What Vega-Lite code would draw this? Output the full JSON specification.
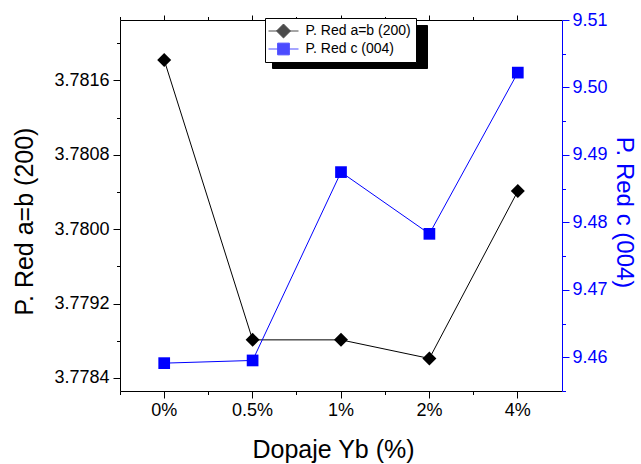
{
  "$schema": "https://vega.github.io/schema/vega-lite/v6.json",
  "width": 442,
  "height": 371,
  "autosize": "none",
  "padding": {"left": 120, "top": 20, "right": 79, "bottom": 73},
  "config": {
    "view": {"stroke": null},
    "font": "Liberation Sans",
    "axis": {"grid": false, "titleFontWeight": "normal", "labelFont": "Liberation Sans", "titleFont": "Liberation Sans", "domainWidth": 1, "tickWidth": 1},
    "legend": {"labelFont": "Liberation Sans"}
  },
  "data": {
    "values": [
      {"dop": "0%", "a": 3.78182, "c": 9.45913},
      {"dop": "0.5%", "a": 3.77881, "c": 9.45953},
      {"dop": "1%", "a": 3.77881, "c": 9.48745},
      {"dop": "2%", "a": 3.77861, "c": 9.4783},
      {"dop": "4%", "a": 3.78041, "c": 9.5022}
    ]
  },
  "layer": [
    {
      "layer": [
        {
          "mark": {"type": "line", "color": "black", "strokeWidth": 1},
          "encoding": {
            "x": {"field": "dop", "type": "ordinal", "sort": null, "bandPosition": 0.5,
              "scale": {"type": "band", "paddingInner": 0, "paddingOuter": 0},
              "axis": {"orient": "bottom", "title": "Dopaje Yb (%)", "labelAngle": 0, "bandPosition": 0.5, "tickSize": 7, "tickColor": "black", "domainColor": "black", "labelColor": "black", "titleColor": "black", "labelFontSize": 18, "titleFontSize": 25, "labelPadding": 3, "titlePadding": 18, "titleX": 213}},
            "y": {"field": "a", "type": "quantitative",
              "scale": {"domain": [3.77826, 3.78225], "zero": false, "nice": false},
              "axis": {"orient": "left", "title": "P. Red a=b (200)", "values": [3.7784, 3.7792, 3.78, 3.7808, 3.7816], "format": ".4f", "tickSize": 7, "tickColor": "black", "domainColor": "black", "labelColor": "black", "titleColor": "black", "labelFontSize": 18, "titleFontSize": 25, "labelPadding": 4, "titlePadding": 16, "titleY": 201}}
          }
        },
        {
          "mark": {"type": "point", "filled": true, "size": 196, "opacity": 1, "shape": "diamond", "color": "black"},
          "encoding": {
            "x": {"field": "dop", "type": "ordinal", "sort": null, "bandPosition": 0.5, "axis": null},
            "y": {"field": "a", "type": "quantitative", "axis": null}
          }
        },
        {
          "mark": {"type": "point", "opacity": 0},
          "encoding": {
            "x": {"field": "dop", "type": "ordinal", "sort": null, "bandPosition": 0.5,
              "axis": {"orient": "bottom", "title": null, "labels": false, "domain": false, "bandPosition": 0, "tickSize": 3.5, "tickColor": "black"}},
            "y": {"field": "a", "type": "quantitative",
              "axis": {"orient": "left", "title": null, "labels": false, "domain": false, "values": [3.7788, 3.7796, 3.7804, 3.7812, 3.782], "tickSize": 3.5, "tickColor": "black"}}
          }
        },
        {
          "mark": {"type": "point", "opacity": 0},
          "encoding": {
            "x": {"field": "dop", "type": "ordinal", "sort": null, "bandPosition": 0.5,
              "axis": {"orient": "top", "title": null, "labels": false, "domain": true, "domainColor": "black", "bandPosition": 0.5, "tickSize": 5, "tickColor": "black"}},
            "y": {"field": "a", "type": "quantitative", "axis": null}
          }
        },
        {
          "mark": {"type": "point", "opacity": 0},
          "encoding": {
            "x": {"field": "dop", "type": "ordinal", "sort": null, "bandPosition": 0.5,
              "axis": {"orient": "top", "title": null, "labels": false, "domain": false, "bandPosition": 0, "tickSize": 3.5, "tickColor": "black"}},
            "y": {"field": "a", "type": "quantitative", "axis": null}
          }
        },
        {
          "data": {"values": [{"s": "P. Red a=b (200)"}, {"s": "P. Red c (004)"}]},
          "transform": [{"filter": "false"}],
          "mark": {"type": "point", "filled": true, "strokeWidth": 1},
          "encoding": {
            "color": {"field": "s", "type": "nominal",
              "scale": {"domain": ["P. Red a=b (200)", "P. Red c (004)"], "range": ["black", "#0000ff"]},
              "legend": {"orient": "none", "legendX": 145, "legendY": -2, "title": null, "fillColor": "white", "strokeColor": "black", "padding": 5, "symbolSize": 225, "symbolOffset": 5.5, "labelOffset": 14, "labelFontSize": 14, "labelColor": "black", "rowPadding": 1, "zindex": 2, "symbolStrokeWidth": 1}},
            "shape": {"field": "s", "type": "nominal",
              "scale": {"domain": ["P. Red a=b (200)", "P. Red c (004)"], "range": ["M-2,0L2,0M0,-0.93L0.93,0L0,0.93L-0.93,0Z", "M-2,0L2,0M-0.78,-0.78L0.78,-0.78L0.78,0.78L-0.78,0.78Z"]}},
            "stroke": {"field": "s", "type": "nominal",
              "scale": {"domain": ["P. Red a=b (200)", "P. Red c (004)"], "range": ["black", "#0000ff"]}}
          }
        },
        {
          "data": {"values": [{"t": "s1"}, {"t": "s2"}]},
          "transform": [{"filter": "false"}],
          "mark": {"type": "point"},
          "encoding": {
            "size": {"field": "t", "type": "ordinal",
              "scale": {"domain": ["s1", "s2"], "range": [225, 225]},
              "legend": {"orient": "none", "legendX": 152, "legendY": 5, "title": null, "fillColor": "black", "strokeColor": "black", "padding": 5, "symbolOffset": 5.5, "labelOffset": 122, "labelFontSize": 14, "labelColor": "black", "rowPadding": 1, "zindex": 1, "symbolOpacity": 0,
                "labelExpr": "''"}}
          }
        }
      ],
      "resolve": {"axis": {"x": "independent", "y": "independent"}}
    },
    {
      "layer": [
        {
          "mark": {"type": "line", "color": "#0000ff", "strokeWidth": 1},
          "encoding": {
            "x": {"field": "dop", "type": "ordinal", "sort": null, "bandPosition": 0.5, "axis": null},
            "y": {"field": "c", "type": "quantitative",
              "scale": {"domain": [9.455, 9.51], "zero": false, "nice": false},
              "axis": {"orient": "right", "title": "P. Red c (004)", "values": [9.46, 9.47, 9.48, 9.49, 9.5, 9.51], "format": ".2f", "tickSize": 7, "tickColor": "#0000ff", "domainColor": "#0000ff", "labelColor": "#0000ff", "titleColor": "#0000ff", "labelFontSize": 18, "titleFontSize": 24, "labelPadding": 3, "titlePadding": 4, "titleY": 192}}
          }
        },
        {
          "mark": {"type": "point", "filled": true, "size": 137, "opacity": 1, "shape": "square", "color": "#0000ff"},
          "encoding": {
            "x": {"field": "dop", "type": "ordinal", "sort": null, "bandPosition": 0.5, "axis": null},
            "y": {"field": "c", "type": "quantitative", "axis": null}
          }
        },
        {
          "mark": {"type": "point", "opacity": 0},
          "encoding": {
            "x": {"field": "dop", "type": "ordinal", "sort": null, "bandPosition": 0.5, "axis": null},
            "y": {"field": "c", "type": "quantitative",
              "axis": {"orient": "right", "title": null, "labels": false, "domain": false, "values": [9.455, 9.465, 9.475, 9.485, 9.495, 9.505], "tickSize": 3.5, "tickColor": "#0000ff"}}
          }
        }
      ],
      "resolve": {"axis": {"y": "independent"}}
    }
  ],
  "resolve": {"scale": {"y": "independent"}, "axis": {"x": "independent"}}
}
